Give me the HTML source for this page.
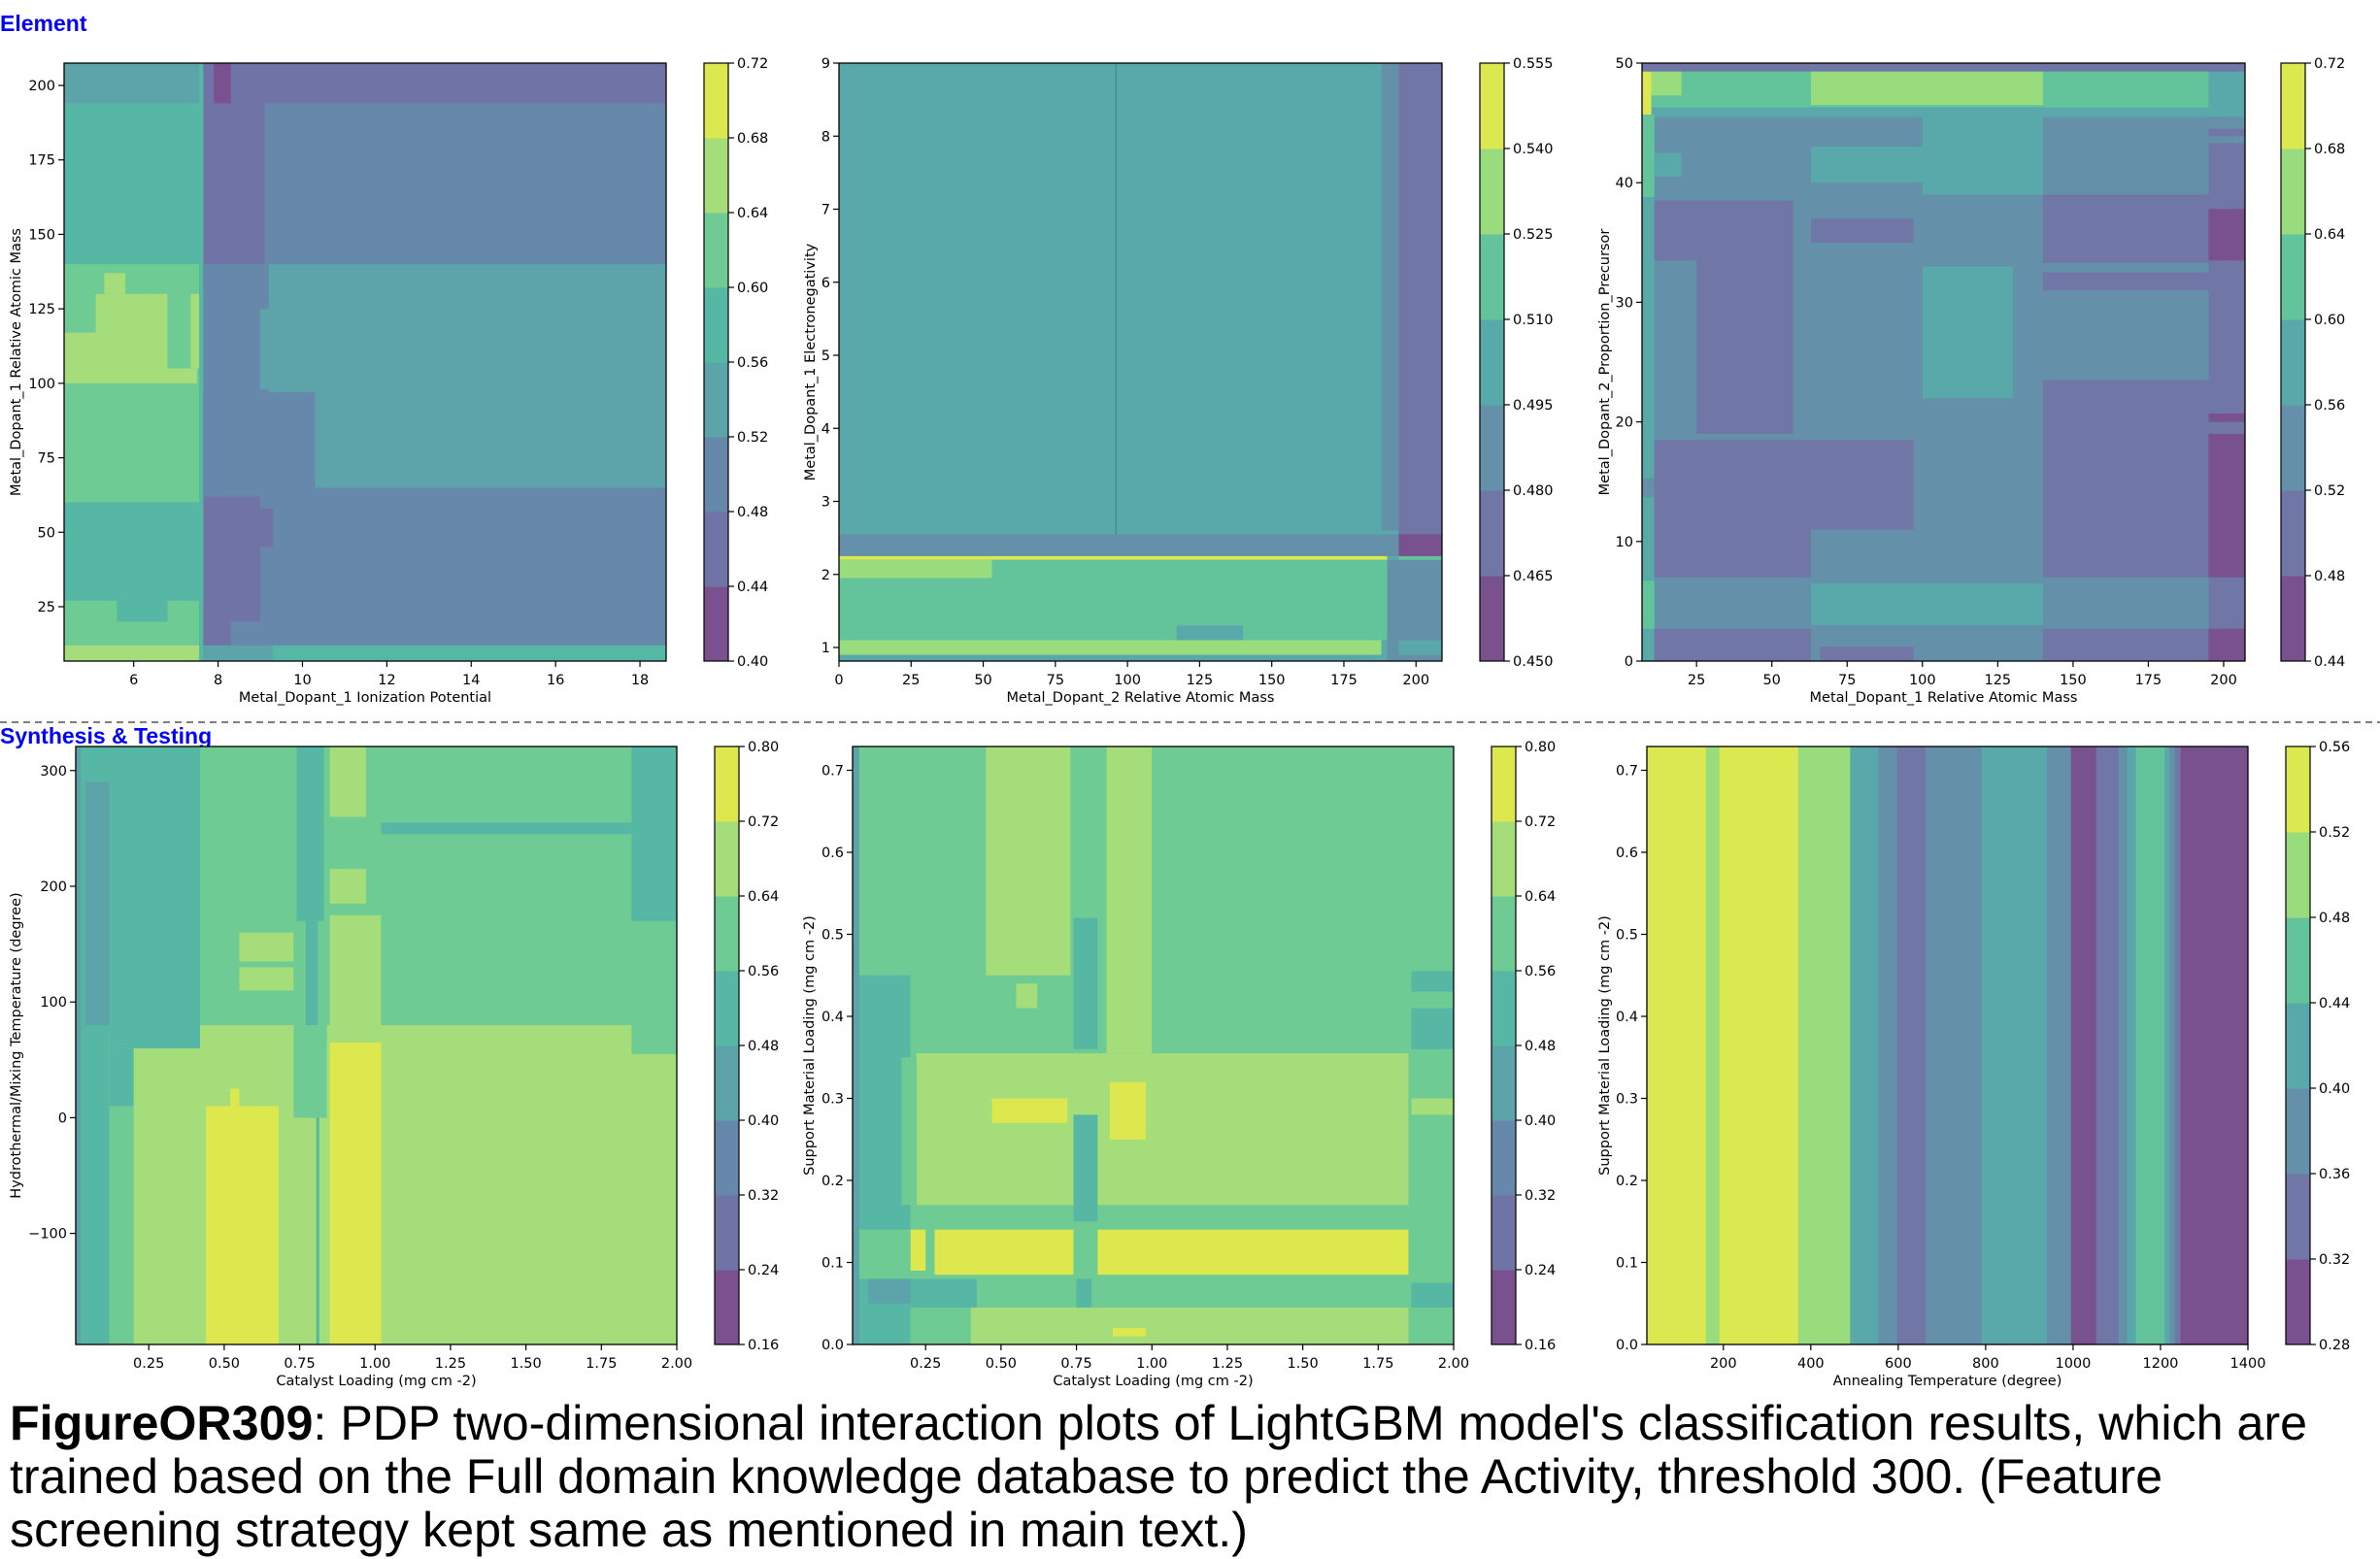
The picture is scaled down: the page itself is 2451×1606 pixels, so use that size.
<!DOCTYPE html>
<html><head><meta charset="utf-8">
<style>
html,body{margin:0;padding:0;background:#fff;}
svg{display:block;font-family:"DejaVu Sans","Liberation Sans",sans-serif;}
</style></head>
<body>
<svg id="fig" width="2451" height="1606" viewBox="0 0 2451 1606" xmlns="http://www.w3.org/2000/svg">
<rect x="0" y="0" width="2451" height="1606" fill="#fff"/>
<text x="0" y="32" font-family="Liberation Sans, sans-serif" font-weight="bold" font-size="23" fill="#0000ff">Element</text>
<line x1="0" y1="744" x2="2451" y2="744" stroke="#555" stroke-width="1.5" stroke-dasharray="7,5"/>
<text x="0" y="766" font-family="Liberation Sans, sans-serif" font-weight="bold" font-size="23" fill="#0000ff">Synthesis &amp; Testing</text>
<g id="charts"></g>
<g font-family="Liberation Sans, sans-serif" font-size="50" fill="#000">
<text x="10" y="1483" textLength="2366" lengthAdjust="spacingAndGlyphs"><tspan font-weight="bold">FigureOR309</tspan>: PDP two-dimensional interaction plots of LightGBM model's classification results, which are</text>
<text x="10" y="1538" textLength="2217" lengthAdjust="spacingAndGlyphs">trained based on the Full domain knowledge database to predict the Activity, threshold 300. (Feature</text>
<text x="10" y="1593" textLength="1275" lengthAdjust="spacingAndGlyphs">screening strategy kept same as mentioned in main text.)</text>
</g>
</svg>
<script>
// ---------- data ----------
const p1Levels = [0.40,0.44,0.48,0.52,0.56,0.60,0.64,0.68,0.72];
const p1XTicks = [6,8,10,12,14,16,18];
const p1YTicks = [25,50,75,100,125,150,175,200];
const p1Base = 0.50;
const p1Regions = [
[4.35,7.55,6.75,207.5,0.58],[4.35,7.55,194,207.5,0.54],[4.35,7.55,140,194,0.58],
[4.35,7.55,60,140,0.62],[4.35,5.1,100,117,0.66],[5.1,6.8,100,130,0.66],[5.3,5.8,130,137,0.66],
[6.8,7.5,100,105,0.66],[7.35,7.55,105,130,0.66],[4.35,7.55,27,60,0.58],[4.35,7.55,6.75,27,0.62],
[5.6,6.8,20,27,0.58],[4.35,7.55,6.75,12,0.66],[7.55,7.65,6.75,207.5,0.58],
[7.65,18.62,194,207.5,0.46],[7.9,8.3,194,207.5,0.42],[7.65,9.1,140,194,0.46],
[9.2,18.62,65,140,0.54],[9.0,9.3,98,125,0.54],[9.2,10.3,65,97,0.50],
[7.65,9.0,20,62,0.46],[9.0,9.3,45,58,0.46],[7.65,8.3,12,20,0.46],
[7.65,9.3,6.75,12,0.54],[9.3,18.62,6.75,12,0.58]
];

const p2Levels = [0.450,0.465,0.480,0.495,0.510,0.525,0.540,0.555];
const p2XTicks = [0,25,50,75,100,125,150,175,200];
const p2YTicks = [1,2,3,4,5,6,7,8,9];
const p2Base = 0.5025;
const p2Regions = [
[188,194,2.6,9,0.4875],[194,209,2.25,9,0.4725],[194,209,2.25,2.55,0.4575],
[0,194,2.25,2.55,0.4875],[0,190,2.2,2.25,0.5475],[0,190,1.1,2.2,0.5175],
[0,53,1.95,2.2,0.5325],[0,188,0.9,1.1,0.5325],[117,140,1.1,1.3,0.5025],
[190,209,0.814,2.2,0.4875],[194,209,0.9,1.1,0.5025],[194,209,2.2,2.25,0.5175]
];

const p3Levels = [0.44,0.48,0.52,0.56,0.60,0.64,0.68,0.72];
const p3XTicks = [25,50,75,100,125,150,175,200];
const p3YTicks = [0,10,20,30,40,50];
const p3Base = 0.54;
const p3Regions = [
[6.9,11,0,50,0.58],[6.9,11,2.7,6.7,0.62],[6.9,11,13.7,15.3,0.54],[6.9,11,38.8,45.7,0.62],
[6.9,10,45.7,49.3,0.70],[11,207.1,45.5,46.5,0.58],[10,195,46.3,49.3,0.62],[10,20,47.3,49.3,0.66],
[63,140,46.5,49.3,0.66],[195,207.1,45.5,49.3,0.58],[6.9,207.1,49.3,50,0.50],
[11,57,33.5,38.5,0.50],[25,57,19,33.5,0.50],[11,63,7,18.5,0.50],[63,97,11,18.5,0.50],
[63,97,35,37,0.50],[11,63,0,2.7,0.50],[66,97,0,1.2,0.50],
[140,195,7,23.5,0.50],[140,195,33.3,39,0.50],[140,195,31,32.5,0.50],[140,195,0,2.7,0.50],
[195,207.1,0,45.5,0.50],[195,207.1,0,2.7,0.46],[195,207.1,7,19,0.46],[195,207.1,20,20.7,0.46],
[195,207.1,33.5,37.8,0.46],[195,207.1,43.3,45.5,0.54],[195,207.1,43.9,44.5,0.50],
[63,140,3,6.5,0.58],[63,100,40,43,0.58],[100,140,39,46,0.58],[100,130,22,33,0.58],[11,20,40.5,42.5,0.58]
];

const p4Levels = [0.16,0.24,0.32,0.40,0.48,0.56,0.64,0.72,0.80];
const p4XTicks = [0.25,0.50,0.75,1.00,1.25,1.50,1.75,2.00];
const p4YTicks = [-100,0,100,200,300];
const p4Base = 0.68;
const p4Regions = [
[0.008,2.0,80,320.8,0.60],[1.85,2.0,55,320.8,0.60],[1.85,2.0,170,320.8,0.52],
[1.02,1.85,245,255,0.52],[0.008,0.12,-196,320.8,0.52],[0.12,0.2,-196,10,0.60],
[0.12,0.2,10,60,0.52],[0.12,0.42,60,320.8,0.52],[0.04,0.12,80,290,0.44],
[0.008,0.025,-196,320.8,0.44],[0.74,0.83,170,320.8,0.52],[0.77,0.81,0,170,0.52],
[0.805,0.815,-196,0,0.52],[0.85,0.97,260,320.8,0.68],[0.85,0.97,185,215,0.68],
[0.85,1.02,65,175,0.68],[0.85,1.02,-196,65,0.76],[0.44,0.68,-196,10,0.76],
[0.52,0.55,10,25,0.76],[0.55,0.73,135,160,0.68],[0.55,0.73,110,130,0.68],
[0.73,0.84,0,80,0.60]
];

const p5Levels = [0.16,0.24,0.32,0.40,0.48,0.56,0.64,0.72,0.80];
const p5XTicks = [0.25,0.50,0.75,1.00,1.25,1.50,1.75,2.00];
const p5YTicks = [0.0,0.1,0.2,0.3,0.4,0.5,0.6,0.7];
const p5Base = 0.60;
const p5Regions = [
[0.22,1.85,0.17,0.355,0.68],[0.45,0.73,0.45,0.729,0.68],[0.85,1.0,0.355,0.729,0.68],
[0.55,0.62,0.41,0.44,0.68],[0.74,0.82,0.36,0.52,0.52],[0.74,0.82,0.15,0.28,0.52],
[0.008,0.2,0.14,0.45,0.52],[0.17,0.22,0.17,0.35,0.60],[0.2,0.25,0.09,0.14,0.76],
[0.28,0.74,0.085,0.14,0.76],[0.82,1.85,0.085,0.14,0.76],[0.86,0.98,0.25,0.32,0.76],
[0.47,0.72,0.27,0.3,0.76],[0.008,0.2,0.08,0.14,0.60],[0.008,0.42,0.045,0.08,0.52],
[0.008,0.2,0.0,0.045,0.52],[0.75,0.8,0.045,0.08,0.52],[1.86,2.0,0.045,0.075,0.52],
[0.4,1.85,0.0,0.045,0.68],[0.87,0.98,0.01,0.02,0.76],[1.86,2.0,0.36,0.41,0.52],
[1.86,2.0,0.43,0.455,0.52],[1.86,2.0,0.28,0.3,0.68],[0.008,0.03,0,0.729,0.44],
[0.06,0.2,0.05,0.08,0.44]
];

const p6Levels = [0.28,0.32,0.36,0.40,0.44,0.48,0.52,0.56];
const p6XTicks = [200,400,600,800,1000,1200,1400];
const p6YTicks = [0.0,0.1,0.2,0.3,0.4,0.5,0.6,0.7];
const p6Breaks = [25,160,191,371,490,554,597,663,791,940,995,1053,1104,1124,1144,1209,1221,1233,1246,1400];
const p6Values = [0.54,0.50,0.54,0.50,0.42,0.38,0.34,0.38,0.42,0.38,0.30,0.34,0.38,0.42,0.46,0.42,0.38,0.34,0.30];

// ---------- drawing ----------
const NS = "http://www.w3.org/2000/svg";
const PAL8 = ["#7a508e","#7073a6","#6689ab","#5ca4aa","#56b7a4","#6fcb94","#a4dd7a","#dde84f"];
const PAL7 = ["#79518f","#7076a6","#6590a9","#5aa9aa","#63c49c","#98dc7e","#dce84f"];
const root = document.getElementById("charts");

function el(tag, attrs, parent){
  const e = document.createElementNS(NS, tag);
  for (const k in attrs) e.setAttribute(k, attrs[k]);
  (parent||root).appendChild(e);
  return e;
}
function scale(d0,d1,r0,r1){ return v => r0 + (v-d0)/(d1-d0)*(r1-r0); }
function colorFor(v, levels){
  const pal = levels.length-1 === 8 ? PAL8 : PAL7;
  let i = 0;
  while (i < levels.length-2 && v >= levels[i+1]) i++;
  return pal[i];
}
function fmt(v, dec){ return (v<0 ? "\u2212" : "") + Math.abs(v).toFixed(dec); }

function drawChart(c){
  const g = el("g", {});
  
  
  const sx = scale(c.xd[0], c.xd[1], c.px[0], c.px[1]);
  const sy = scale(c.yd[0], c.yd[1], c.py[1], c.py[0]);
  const clipId = c.name + "-clip";
  const defs = el("defs", {}, g);
  const cp = el("clipPath", {id: clipId}, defs);
  el("rect", {x:c.px[0], y:c.py[0], width:c.px[1]-c.px[0], height:c.py[1]-c.py[0]}, cp);
  const area = el("g", {"clip-path":"url(#"+clipId+")"}, g);
  
  
  if (c.base !== undefined) {
    const b = el("rect", {x:c.px[0], y:c.py[0], width:c.px[1]-c.px[0], height:c.py[1]-c.py[0], fill:colorFor(c.base,c.levels)}, area);
    
    
  }
  (c.regions||[]).forEach(r => {
    const x0 = sx(r[0]), x1 = sx(r[1]), y0 = sy(r[3]), y1 = sy(r[2]);
    const rr = el("rect", {x:x0, y:y0, width:Math.max(0,x1-x0), height:Math.max(0,y1-y0), fill:colorFor(r[4],c.levels)}, area);
    
    
  });
  if (c.breaks) {
    for (let i=0;i<c.values.length;i++){
      const x0 = sx(c.breaks[i]), x1 = sx(c.breaks[i+1]);
      const rr = el("rect", {x:x0, y:c.py[0], width:x1-x0+0.5, height:c.py[1]-c.py[0], fill:colorFor(c.values[i],c.levels)}, area);
      
      
    }
  }
  if (c.vline) {
    const ln = el("line", {x1:sx(c.vline[0]), x2:sx(c.vline[0]), y1:sy(c.vline[1]), y2:sy(c.vline[2]), stroke:"#3b8e8e", "stroke-width":1.2}, area);
    
    
  }
  const frame = el("rect", {x:c.px[0], y:c.py[0], width:c.px[1]-c.px[0], height:c.py[1]-c.py[0], fill:"none", stroke:"#000", "stroke-width":1.3}, g);
  
  
  c.xticks.forEach(t => {
    const x = sx(t);
    el("line", {x1:x, x2:x, y1:c.py[1], y2:c.py[1]+6, stroke:"#000", "stroke-width":1.2}, g);
    const tx = el("text", {x:x, y:c.py[1]+24, "text-anchor":"middle", "font-size":14.5, fill:"#000"}, g);
    tx.textContent = fmt(t, c.xdec);
    
    
  });
  c.yticks.forEach(t => {
    const y = sy(t);
    el("line", {x1:c.px[0]-6, x2:c.px[0], y1:y, y2:y, stroke:"#000", "stroke-width":1.2}, g);
    const tx = el("text", {x:c.px[0]-9, y:y+5, "text-anchor":"end", "font-size":14.5, fill:"#000"}, g);
    tx.textContent = fmt(t, c.ydec);
    
    
  });
  const xl = el("text", {x:(c.px[0]+c.px[1])/2, y:c.py[1]+42, "text-anchor":"middle", "font-size":14.5, fill:"#000"}, g);
  xl.textContent = c.xlabel;
  
  
  const cy = (c.py[0]+c.py[1])/2;
  const yl = el("text", {x:c.ylx, y:cy, "text-anchor":"middle", "font-size":14.5, fill:"#000", transform:"rotate(-90 "+c.ylx+" "+cy+")", dy:"5"}, g);
  yl.textContent = c.ylabel;
  
  
  const cb = el("g", {}, g);
  
  
  const n = c.levels.length-1;
  const cs = scale(c.levels[0], c.levels[n], c.py[1], c.py[0]);
  for (let i=0;i<n;i++){
    const y0 = cs(c.levels[i+1]), y1 = cs(c.levels[i]);
    const r = el("rect", {x:c.cb[0], y:y0, width:c.cb[1]-c.cb[0], height:y1-y0+0.5, fill:colorFor((c.levels[i]+c.levels[i+1])/2, c.levels)}, cb);
    
    
  }
  el("rect", {x:c.cb[0], y:c.py[0], width:c.cb[1]-c.cb[0], height:c.py[1]-c.py[0], fill:"none", stroke:"#000", "stroke-width":1.2}, cb);
  c.levels.forEach(l => {
    const y = cs(l);
    el("line", {x1:c.cb[1], x2:c.cb[1]+6, y1:y, y2:y, stroke:"#000", "stroke-width":1.2}, cb);
    const t = el("text", {x:c.cb[1]+9, y:y+5, "font-size":14.5, fill:"#000"}, cb);
    t.textContent = l.toFixed(c.cdec);
    
    
  });
}

drawChart({name:"pdp-ionization-vs-mass", px:[66,686], py:[65,681], cb:[725,750], xd:[4.35,18.62], yd:[6.75,207.5],
  levels:p1Levels, base:p1Base, regions:p1Regions, xticks:p1XTicks, yticks:p1YTicks, xdec:0, ydec:0, cdec:2,
  xlabel:"Metal_Dopant_1 Ionization Potential", ylabel:"Metal_Dopant_1 Relative Atomic Mass", ylx:16});
drawChart({name:"pdp-mass2-vs-electronegativity", px:[864,1485], py:[65,681], cb:[1524,1549], xd:[0,209], yd:[0.814,9],
  levels:p2Levels, base:p2Base, regions:p2Regions, vline:[96,2.55,9], xticks:p2XTicks, yticks:p2YTicks, xdec:0, ydec:0, cdec:3,
  xlabel:"Metal_Dopant_2 Relative Atomic Mass", ylabel:"Metal_Dopant_1 Electronegativity", ylx:834});
drawChart({name:"pdp-mass1-vs-proportion", px:[1691,2312], py:[65,681], cb:[2349,2374], xd:[6.9,207.1], yd:[0,50],
  levels:p3Levels, base:p3Base, regions:p3Regions, xticks:p3XTicks, yticks:p3YTicks, xdec:0, ydec:0, cdec:2,
  xlabel:"Metal_Dopant_1 Relative Atomic Mass", ylabel:"Metal_Dopant_2_Proportion_Precursor", ylx:1652});
drawChart({name:"pdp-catalyst-vs-temperature", px:[78,697], py:[769,1385], cb:[736,761], xd:[0.008,2.0], yd:[-196,320.8],
  levels:p4Levels, base:p4Base, regions:p4Regions, xticks:p4XTicks, yticks:p4YTicks, xdec:2, ydec:0, cdec:2,
  xlabel:"Catalyst Loading (mg cm -2)", ylabel:"Hydrothermal/Mixing Temperature (degree)", ylx:16});
drawChart({name:"pdp-catalyst-vs-support", px:[878,1497], py:[769,1385], cb:[1536,1561], xd:[0.008,2.0], yd:[0,0.729],
  levels:p5Levels, base:p5Base, regions:p5Regions, xticks:p5XTicks, yticks:p5YTicks, xdec:2, ydec:1, cdec:2,
  xlabel:"Catalyst Loading (mg cm -2)", ylabel:"Support Material Loading (mg cm -2)", ylx:833});
drawChart({name:"pdp-annealing-vs-support", px:[1696,2315], py:[769,1385], cb:[2354,2379], xd:[25,1400], yd:[0,0.729],
  levels:p6Levels, breaks:p6Breaks, values:p6Values, xticks:p6XTicks, yticks:p6YTicks, xdec:0, ydec:1, cdec:2,
  xlabel:"Annealing Temperature (degree)", ylabel:"Support Material Loading (mg cm -2)", ylx:1652});
</script>
</body></html>
